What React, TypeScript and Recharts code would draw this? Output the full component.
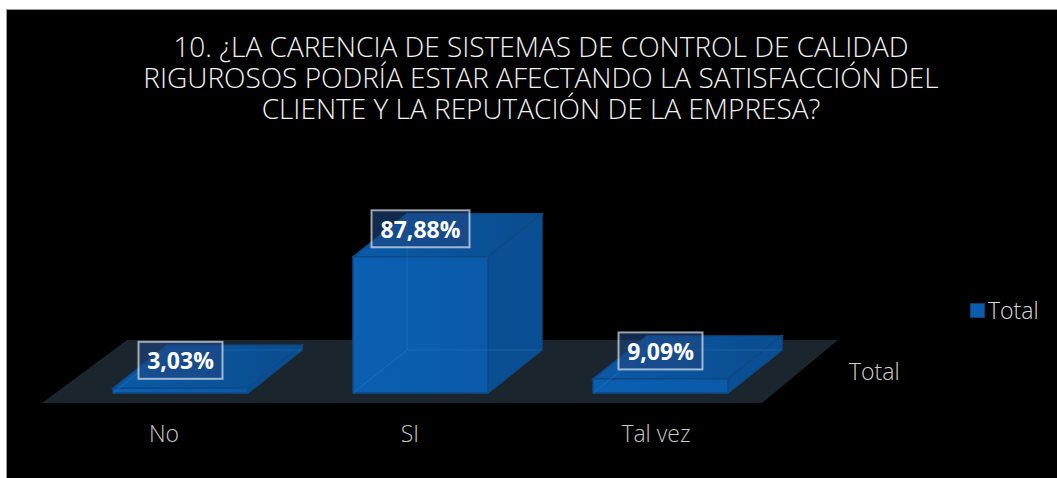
import React from "react";
import { BarChart, Bar, XAxis, YAxis, ReferenceArea, LabelList, Legend } from "recharts";

// chart data
const categories = ["No", "SI", "Tal vez"];
const totals = [0.0303, 0.8788, 0.0909];
const seriesName = "Total";
const titleLines = [
  "10. ¿LA CARENCIA DE SISTEMAS DE CONTROL DE CALIDAD",
  "RIGUROSOS PODRÍA ESTAR AFECTANDO LA SATISFACCIÓN DEL",
  "CLIENTE Y LA REPUTACIÓN DE LA EMPRESA?",
];

const data = categories.map((name, i) => ({ name, total: totals[i] }));

const FONT = "'Open Sans', sans-serif";
// depth of the 3d boxes
const DX = 54;
const DY = 43;

const fmt = (v: number) => (v * 100).toFixed(2).replace(".", ",") + "%";

const pts = (arr: number[][]) => arr.map((p) => p.join(",")).join(" ");

// 3d box drawn from the front face rect
const Box3D = (props: any) => {
  const { x, y, width: w, height: h } = props;
  const b = y + h;
  return (
    <g>
      <polygon points={pts([[x, y], [x + w, y], [x + w + DX, y - DY], [x + DX, y - DY]])} fill="url(#topGrad)" stroke="#0d4a88" strokeWidth={1.5} />
      <polygon points={pts([[x + w, y], [x + w + DX, y - DY], [x + w + DX, b - DY], [x + w, b]])} fill="#0a4f93" stroke="#0d4a88" strokeWidth={1.5} />
      <rect x={x} y={y} width={w} height={h} fill="url(#frontGrad)" stroke="#0d4a88" strokeWidth={1.5} />
      {/* hidden edges seen through */}
      <g stroke="#4a90d9" strokeOpacity={0.25} strokeWidth={1}>
        <line x1={x + DX} y1={y - DY} x2={x + DX} y2={b - DY} />
        <line x1={x + DX} y1={b - DY} x2={x + w + DX} y2={b - DY} />
        <line x1={x} y1={b} x2={x + DX} y2={b - DY} />
      </g>
    </g>
  );
};

const Floor = (props: any) => {
  const { x, y, width, height } = props;
  const b = y + height;
  const r = x + width;
  return (
    <g>
      <polygon points={pts([[x - 18, b + 10], [r - 18, b + 10], [r + 58, b - 53], [x + 67, b - 53]])} fill="#1b252d" />
      <text x={r + 69} y={b - 13} fill="#d0d0d0" fontSize={23} fontFamily={FONT} fontWeight={300}>
        {seriesName}
      </text>
    </g>
  );
};

const ValueTag = (props: any) => {
  const { x, y, width, value } = props;
  const text = fmt(value);
  const cx = x + width / 2;
  const cy = y - 28;
  const bw = text.length * 14 + 14;
  const bh = 37;
  return (
    <g>
      <rect x={cx - bw / 2} y={cy - bh / 2} width={bw} height={bh} fill="rgba(30,70,130,0.6)" stroke="rgba(255,255,255,0.6)" strokeWidth={2} />
      <text x={cx} y={cy} textAnchor="middle" dominantBaseline="central" fill="#fff" fontSize={23} fontWeight={700} fontFamily={FONT}>
        {text}
      </text>
    </g>
  );
};

// labels sit on the projected front edge of the floor, so they drift a bit
const CategoryTick = (props: any) => {
  const { x, y, payload } = props;
  const shift = -10 + (x - 413) * 0.025;
  return (
    <text x={x + shift} y={y + 49} textAnchor="middle" fill="#c8c8c8" fontSize={23} fontWeight={300} fontFamily={FONT}>
      {payload.value}
    </text>
  );
};

const LegendBox = () => (
  <div style={{ display: "flex", alignItems: "center", fontFamily: FONT, fontSize: 23, fontWeight: 300, color: "#d9d9d9" }}>
    <span style={{ width: 13, height: 13, background: "#0b5cad", border: "1px solid #0a3f78", marginRight: 3, display: "inline-block" }} />
    {seriesName}
  </div>
);

export default function App() {
  return (
    <div
      style={{
        position: "absolute",
        left: 6,
        top: 9,
        width: 1051,
        height: 469,
        background: "#000",
        borderLeft: "1px solid #999",
        borderTop: "1px solid #999",
      }}
    >
      <div
        style={{
          position: "absolute",
          left: 0,
          top: 21,
          width: 1068,
          textAlign: "center",
          color: "#f2f2f2",
          fontFamily: FONT,
          fontWeight: 300,
          fontSize: 28,
          lineHeight: "31px",
        }}
      >
        {titleLines.map((l) => (
          <div key={l}>{l}</div>
        ))}
      </div>
      <BarChart width={1050} height={468} data={data} margin={{ top: 228, right: 277, left: 53, bottom: 0 }}>
        <defs>
          <linearGradient id="frontGrad" x1="0" y1="0" x2="1" y2="0">
            <stop offset="0%" stopColor="#0b5fb2" />
            <stop offset="100%" stopColor="#0a5aa8" />
          </linearGradient>
          <linearGradient id="topGrad" x1="0" y1="0" x2="1" y2="0">
            <stop offset="0%" stopColor="#0b5aa6" />
            <stop offset="100%" stopColor="#0a4c8e" />
          </linearGradient>
        </defs>
        <ReferenceArea y1={0} y2={1} shape={(p: any) => <Floor {...p} />} />
        <XAxis dataKey="name" height={85} axisLine={false} tickLine={false} tickSize={0} tickMargin={0} tick={<CategoryTick />} interval={0} />
        <YAxis hide domain={[0, 1]} />
        <Legend
          layout="horizontal"
          verticalAlign="middle"
          align="center"
          content={<LegendBox />}
          wrapperStyle={{ position: "absolute", left: 963, top: 284, width: 90 }}
        />
        <Bar dataKey="total" name={seriesName} barSize={135} shape={<Box3D />} isAnimationActive={false}>
          <LabelList dataKey="total" content={<ValueTag />} />
        </Bar>
      </BarChart>
    </div>
  );
}
